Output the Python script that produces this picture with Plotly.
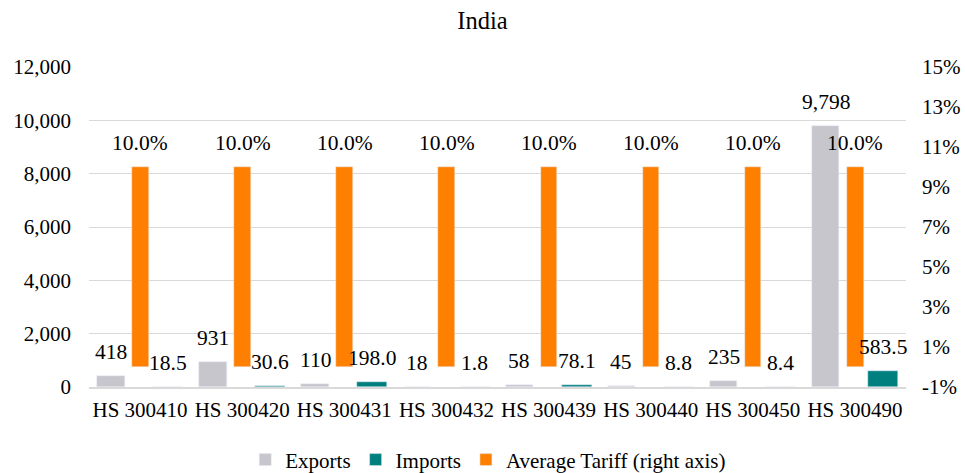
import plotly.graph_objects as go

# HS product codes and trade figures for India
categories = ["HS 300410", "HS 300420", "HS 300431", "HS 300432",
              "HS 300439", "HS 300440", "HS 300450", "HS 300490"]
exports = [418, 931, 110, 18, 58, 45, 235, 9798]
imports = [18.5, 30.6, 198.0, 1.8, 78.1, 8.8, 8.4, 583.5]
avg_tariff = [0.10, 0.10, 0.10, 0.10, 0.10, 0.10, 0.10, 0.10]

left_ticks = [0, 2000, 4000, 6000, 8000, 10000, 12000]
right_ticks = [-0.01, 0.01, 0.03, 0.05, 0.07, 0.09, 0.11, 0.13, 0.15]
right_labels = [f"{round(t * 100)}%" for t in right_ticks]

FONT = "'Liberation Serif', 'Times New Roman', serif"
FS = 21
GRAY = "#C8C6CD"
TEAL = "#007F7F"
ORANGE = "#FF8000"

xs = list(range(len(categories)))

# bar geometry within each category slot (slot width = 1)
EXP_OFF, EXP_W = -0.42, 0.268
IMP_OFF, IMP_W = 0.128, 0.294
TAR_OFF, TAR_W = -0.078, 0.163

fig = go.Figure()
fig.add_trace(go.Bar(x=xs, y=exports, name="Exports", marker_color=GRAY,
                     offset=EXP_OFF, width=EXP_W, yaxis="y"))
fig.add_trace(go.Bar(x=xs, y=imports, name="Imports", marker_color=TEAL,
                     offset=IMP_OFF, width=IMP_W, yaxis="y"))
fig.add_trace(go.Bar(x=xs, y=avg_tariff, name="Average Tariff (right axis)",
                     marker_color=ORANGE, offset=TAR_OFF, width=TAR_W,
                     yaxis="y2"))

# value labels above each bar
label_font = dict(family=FONT, size=21.5, color="#000000")
annotations = []
for i in xs:
    annotations.append(dict(x=i + EXP_OFF + EXP_W / 2, y=exports[i], xref="x", yref="y",
                             text=f"{exports[i]:,.0f}", showarrow=False, font=label_font,
                             yshift=24, yanchor="middle"))
    annotations.append(dict(x=i + IMP_OFF + IMP_W / 2, y=imports[i], xref="x", yref="y",
                             text=f"{imports[i]:.1f}", showarrow=False, font=label_font,
                             yshift=24, yanchor="middle"))
    annotations.append(dict(x=i + TAR_OFF + TAR_W / 2, y=avg_tariff[i], xref="x", yref="y2",
                             text=f"{avg_tariff[i]*100:.1f}%", showarrow=False, font=label_font,
                             yshift=24, yanchor="middle"))

fig.update_layout(
    width=965, height=473,
    margin=dict(l=88.6, r=59.2, t=67, b=86, autoexpand=False),
    paper_bgcolor="white", plot_bgcolor="white",
    font=dict(family=FONT, size=FS, color="#000000"),
    title=dict(text="India", x=0.5, xanchor="center", y=0.957, yanchor="middle",
               font=dict(family=FONT, size=24.5, color="#000000")),
    barmode="overlay",
    bargap=0,
    showlegend=True,
    legend=dict(orientation="h", x=0.4887, xanchor="center", y=-0.228, yanchor="middle",
                font=dict(family=FONT, size=FS, color="#000000"),
                traceorder="normal", itemwidth=30),
    xaxis=dict(tickmode="array", tickvals=xs, ticktext=categories,
               range=[-0.5, len(categories) - 0.5],
               showgrid=False, zeroline=False,
               showline=True, linecolor="#D9D9D9", linewidth=1.5,
               ticks="", ticklabelstandoff=3,
               tickfont=dict(family=FONT, size=FS, color="#000000")),
    yaxis=dict(range=[0, 12000], tickmode="array", tickvals=left_ticks,
               tickformat=",", showgrid=True, gridcolor="#D9D9D9", gridwidth=1.3,
               zeroline=False, ticks="", ticklabelstandoff=17,
               tickfont=dict(family=FONT, size=FS, color="#000000")),
    yaxis2=dict(range=[-0.01, 0.15], tickmode="array", tickvals=right_ticks,
                ticktext=right_labels, overlaying="y", side="right",
                showgrid=False, zeroline=False, ticks="", ticklabelstandoff=15,
                tickfont=dict(family=FONT, size=FS, color="#000000")),
    annotations=annotations,
)

fig.write_html("out.html")
